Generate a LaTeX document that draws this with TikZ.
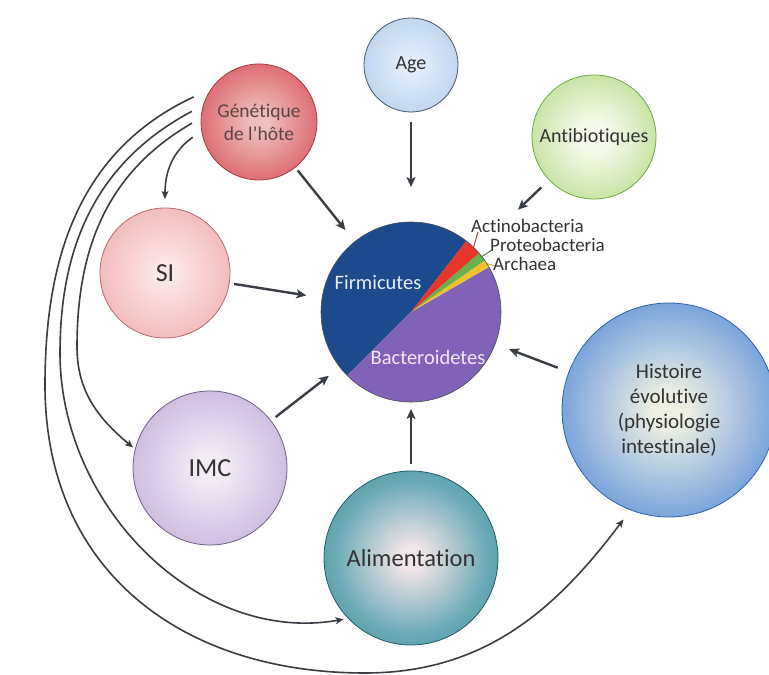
\documentclass[tikz,border=0pt]{standalone}
\usepackage{fontspec}
\setmainfont{Carlito}[Ligatures={TeX,NoCommon}]
\usetikzlibrary{arrows.meta,calc}

\definecolor{arrc}{HTML}{383E44}
\definecolor{txt}{HTML}{333333}
\definecolor{gentxt}{HTML}{5E4444}
% sphere colours
\definecolor{genin}{HTML}{EFBDBD}\definecolor{genmid}{HTML}{DD7378}\definecolor{genout}{HTML}{C63F46}\definecolor{genb}{HTML}{A8383D}
\definecolor{agein}{HTML}{E3EDF8}\definecolor{agemid}{HTML}{C3D8F0}\definecolor{ageout}{HTML}{A2C0E5}\definecolor{ageb}{HTML}{4C5864}
\definecolor{antin}{HTML}{F6FAEC}\definecolor{antmid}{HTML}{C7E3A2}\definecolor{antout}{HTML}{93C65B}\definecolor{antb}{HTML}{6FA844}
\definecolor{siin}{HTML}{FBE6E6}\definecolor{simid}{HTML}{F3BBBD}\definecolor{siout}{HTML}{EC9A9E}\definecolor{sib}{HTML}{B4696D}
\definecolor{imcin}{HTML}{F3ECF5}\definecolor{imcmid}{HTML}{CDBCE0}\definecolor{imcout}{HTML}{AA8FC9}\definecolor{imcb}{HTML}{6F5F85}
\definecolor{alin}{HTML}{F3E6E8}\definecolor{almid}{HTML}{6AAAB5}\definecolor{alout}{HTML}{25788A}\definecolor{alb}{HTML}{215E6A}
\definecolor{hiin}{HTML}{EDEFE2}\definecolor{himid}{HTML}{7FA8DC}\definecolor{hiout}{HTML}{3B7AD0}\definecolor{hib}{HTML}{2F62A8}
% pie colours
\definecolor{firmc}{HTML}{1C4A8C}
\definecolor{bactc}{HTML}{8063B8}
\definecolor{redc}{HTML}{E8352A}
\definecolor{greenc}{HTML}{6AB04C}
\definecolor{yellowc}{HTML}{F0C030}
\definecolor{firmtxt}{HTML}{E6EDF8}
\definecolor{bacttxt}{HTML}{F3E6F3}

\pgfdeclareradialshading{shgen}{\pgfpoint{0bp}{0bp}}{color(0bp)=(genin); color(4bp)=(genin); color(24bp)=(genmid); color(46bp)=(genout); color(50bp)=(genout)}
\pgfdeclareradialshading{shage}{\pgfpoint{0bp}{0bp}}{color(0bp)=(agein); color(4bp)=(agein); color(24bp)=(agemid); color(46bp)=(ageout); color(50bp)=(ageout)}
\pgfdeclareradialshading{shant}{\pgfpoint{0bp}{0bp}}{color(0bp)=(antin); color(6bp)=(antin); color(26bp)=(antmid); color(46bp)=(antout); color(50bp)=(antout)}
\pgfdeclareradialshading{shsi}{\pgfpoint{0bp}{0bp}}{color(0bp)=(siin); color(4bp)=(siin); color(26bp)=(simid); color(46bp)=(siout); color(50bp)=(siout)}
\pgfdeclareradialshading{shimc}{\pgfpoint{0bp}{0bp}}{color(0bp)=(imcin); color(4bp)=(imcin); color(26bp)=(imcmid); color(46bp)=(imcout); color(50bp)=(imcout)}
\pgfdeclareradialshading{shal}{\pgfpoint{0bp}{0bp}}{color(0bp)=(alin); color(3bp)=(alin); color(22bp)=(almid); color(44bp)=(alout); color(50bp)=(alout)}
\pgfdeclareradialshading{shhi}{\pgfpoint{0bp}{0bp}}{color(0bp)=(hiin); color(4bp)=(hiin); color(24bp)=(himid); color(44bp)=(hiout); color(50bp)=(hiout)}

\begin{document}
\begin{tikzpicture}[x=1pt,y=1pt,
  ball/.style={circle, inner sep=0pt, outer sep=0pt, align=center, line width=0.8pt, shade},
  arr/.style={line width=2.4pt, draw=arrc, -{Stealth[length=10pt,width=9pt,inset=2.5pt]}},
  carr/.style={line width=1.6pt, draw=arrc, -{Stealth[length=8pt,width=7pt,inset=2pt]}},
  lab/.style={anchor=west, inner sep=0pt, text=txt, font=\fontsize{19}{19}\selectfont},
  leader/.style={line width=0.8pt, draw=#1},
]
\useasboundingbox (0,0) rectangle (769,675);
\fill[white] (0,0) rectangle (769,675);

% spheres
\node[ball, minimum size=116pt, draw=genb, shading=shgen, text=gentxt,
      font=\fontsize{19.5}{23}\selectfont] (gen) at (259,553) {Génétique\\de l’hôte};
\node[ball, minimum size=94pt, draw=ageb, shading=shage, text=txt,
      font=\fontsize{20}{23}\selectfont] (age) at (411,610) {Age};
\node[ball, minimum size=124pt, draw=antb, shading=shant, text=txt,
      font=\fontsize{20}{23}\selectfont] (anti) at (594,538) {Antibiotiques};
\node[ball, minimum size=130pt, draw=sib, shading=shsi, text=txt,
      font=\fontsize{26}{30}\selectfont] (si) at (165,402) {SI};
\node[ball, minimum size=154pt, draw=imcb, shading=shimc, text=txt,
      font=\fontsize{26}{30}\selectfont] (imc) at (210,207) {IMC};
\node[ball, minimum size=174pt, draw=alb, shading=shal, text=txt,
      font=\fontsize{24.5}{28}\selectfont] (alim) at (411,117) {Alimentation};
\node[ball, minimum size=214pt, draw=hib, shading=shhi, text=txt,
      font=\fontsize{21}{25}\selectfont] (hist) at (669,265) {Histoire\\évolutive\\(physiologie\\intestinale)};

% pie chart
\node[circle, minimum size=180pt, inner sep=0pt, outer sep=0pt] (pie) at (411,363) {};
\fill[firmc] (pie.center) -- ($(pie.center)+(52:90pt)$) arc[start angle=52, end angle=225, radius=90pt] -- cycle;
\fill[bactc] (pie.center) -- ($(pie.center)+(225:90pt)$) arc[start angle=225, end angle=390, radius=90pt] -- cycle;
\fill[yellowc] (pie.center) -- ($(pie.center)+(30:90pt)$) arc[start angle=30, end angle=35, radius=90pt] -- cycle;
\fill[greenc] (pie.center) -- ($(pie.center)+(35:90pt)$) arc[start angle=35, end angle=41, radius=90pt] -- cycle;
\fill[redc] (pie.center) -- ($(pie.center)+(41:90pt)$) arc[start angle=41, end angle=52, radius=90pt] -- cycle;
\draw[line width=0.6pt, draw=black!70] (pie.center) circle[radius=90pt];

\node[text=firmtxt, font=\fontsize{20.5}{24}\selectfont] (firm) at (378,392) {Firmicutes};
\node[text=bacttxt, font=\fontsize{20.5}{24}\selectfont] (bact) at (428,318) {Bacteroidetes};

% phylum labels
\node[lab] (act) at (471,449) {Actinobacteria};
\node[lab] (pro) at (490,430) {Proteobacteria};
\node[lab] (arc) at (493,411) {Archaea};
\coordinate (sred) at ($(pie.center)+(46:90pt)$);
\coordinate (sgreen) at ($(pie.center)+(38:90pt)$);
\coordinate (syellow) at ($(pie.center)+(32.5:90pt)$);
\draw[leader=redc!70!black] ([xshift=7pt,yshift=1pt]act.south west) -- (sred);
\draw[leader=greenc!60!black] ([xshift=2pt,yshift=2pt]pro.south west) -- (sgreen);
\draw[leader=yellowc!80!black] ([xshift=2pt,yshift=5pt]arc.south west) -- (syellow);

% straight arrows to the pie
\draw[arr, shorten <=4pt, shorten >=15pt] (gen) -- (pie);
\draw[arr, shorten <=10pt, shorten >=35pt] (age) -- (pie);
\draw[arr, shorten <=11pt, shorten >=58pt] (anti) -- (pie);
\draw[arr, shorten <=5pt, shorten >=16pt] (si) -- (pie);
\draw[arr, shorten <=6pt, shorten >=14pt] (imc) -- (pie);
\draw[arr, shorten <=7pt, shorten >=7pt] (alim) -- (pie);
\draw[arr, shorten <=12pt, shorten >=15pt] (hist) -- (pie);

% curved arrows from host genetics
\coordinate (g1) at ($(gen.center)+(159:70pt)$);
\coordinate (g2) at ($(gen.center)+(171:68pt)$);
\coordinate (g3) at ($(gen.center)+(181:67pt)$);
\coordinate (g4) at ($(gen.center)+(193:68pt)$);
\coordinate (w1) at (45,290);
\coordinate (b1) at (365,2);
\coordinate (w2) at (60,322);
\coordinate (w3) at (77,328);

\draw[carr, shorten >=12pt] (g1) to[out=205,in=90] (w1) to[out=-90,in=180,looseness=1.1] (b1) to[out=0,in=233] (hist.249);
\draw[carr, shorten >=5pt] (g2) to[out=208,in=90] (w2) to[out=-90,in=190] (alim.224);
\draw[carr, shorten >=3pt] (g3) to[out=210,in=90] (w3) to[out=-90,in=140] (imc.166);
\draw[carr, shorten >=9pt] (g4) to[out=215,in=90] (si.north);
\end{tikzpicture}
\end{document}
